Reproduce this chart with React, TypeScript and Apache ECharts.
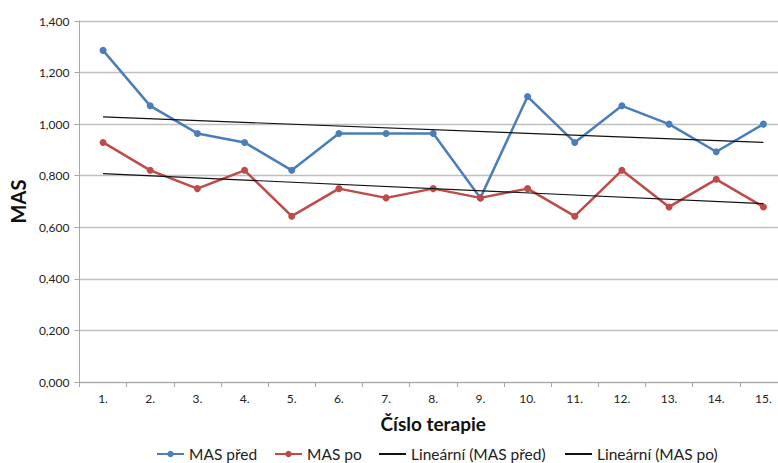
import React, { useEffect, useRef } from "react";
import * as echarts from "echarts";

const categories = ["1.", "2.", "3.", "4.", "5.", "6.", "7.", "8.", "9.", "10.", "11.", "12.", "13.", "14.", "15."];
const masPred = [1.286, 1.071, 0.964, 0.929, 0.821, 0.964, 0.964, 0.964, 0.714, 1.107, 0.929, 1.071, 1.0, 0.893, 1.0];
const masPo = [0.929, 0.821, 0.75, 0.821, 0.643, 0.75, 0.714, 0.75, 0.714, 0.75, 0.643, 0.821, 0.679, 0.786, 0.679];
// trend line end values (first and last category)
const trendPred = [1.028, 0.929];
const trendPo = [0.808, 0.692];

const FONT = "Lato, 'Open Sans', sans-serif";

export default function App() {
  const ref = useRef<HTMLDivElement>(null);
  useEffect(() => {
    if (!ref.current) return;
    const chart = echarts.init(ref.current, undefined, { renderer: "svg" });
    const last = categories.length - 1;
    const legendBase = {
      bottom: 1,
      padding: 0,
      itemWidth: 27,
      itemHeight: 8,
      textStyle: { fontSize: 15.5, color: "#222", fontFamily: FONT },
    };
    chart.setOption({
      animation: false,
      textStyle: { fontFamily: FONT },
      grid: { left: 77, right: 7, top: 21, bottom: 81, containLabel: false },
      legend: [
        { ...legendBase, left: 156, data: [{ name: "MAS před" }] },
        { ...legendBase, left: 274, data: [{ name: "MAS po" }] },
        { ...legendBase, left: 378, data: [{ name: "Lineární (MAS před)", itemStyle: { color: "transparent", borderWidth: 0 } }] },
        { ...legendBase, left: 564, data: [{ name: "Lineární (MAS po)", itemStyle: { color: "transparent", borderWidth: 0 } }] },
      ],
      xAxis: {
        type: "category",
        data: categories,
        boundaryGap: true,
        axisLine: { lineStyle: { color: "#a6a6a6", width: 1 } },
        axisTick: { show: true, length: 5, inside: false, lineStyle: { color: "#a6a6a6" } },
        axisLabel: { fontSize: 12, color: "#222", margin: 10, fontFamily: FONT },
        name: "Číslo terapie",
        nameLocation: "middle",
        nameGap: 32,
        nameTextStyle: { fontSize: 19, fontWeight: "bold", color: "#111", fontFamily: FONT },
      },
      yAxis: {
        type: "value",
        min: 0,
        max: 1.4,
        interval: 0.2,
        axisLine: { show: true, lineStyle: { color: "#a6a6a6", width: 1 } },
        axisTick: { show: true, length: 5, lineStyle: { color: "#a6a6a6" } },
        splitLine: { lineStyle: { color: "#bfbfbf", width: 1.3 } },
        axisLabel: {
          fontSize: 12,
          color: "#222",
          margin: 10,
          fontFamily: FONT,
          formatter: (v: number) => v.toFixed(3).replace(".", ","),
        },
        name: "MAS",
        nameLocation: "middle",
        nameGap: 44,
        nameTextStyle: { fontSize: 20, fontWeight: "bold", color: "#111", fontFamily: FONT },
      },
      series: [
        {
          name: "MAS před",
          type: "line",
          data: masPred,
          color: "#4a7ebb",
          symbol: "circle",
          symbolSize: 7,
          lineStyle: { width: 2.5, color: "#4a7ebb" },
          itemStyle: { color: "#4a7ebb" },
          z: 3,
        },
        {
          name: "MAS po",
          type: "line",
          data: masPo,
          color: "#be4b48",
          symbol: "circle",
          symbolSize: 7,
          lineStyle: { width: 2.5, color: "#be4b48" },
          itemStyle: { color: "#be4b48" },
          z: 3,
        },
        {
          name: "Lineární (MAS před)",
          type: "line",
          data: [[0, trendPred[0]], [last, trendPred[1]]],
          color: "#111",
          symbol: "none",
          lineStyle: { width: 1.2, color: "#111" },
          z: 4,
        },
        {
          name: "Lineární (MAS po)",
          type: "line",
          data: [[0, trendPo[0]], [last, trendPo[1]]],
          color: "#111",
          symbol: "none",
          lineStyle: { width: 1.2, color: "#111" },
          z: 4,
        },
      ],
    });
    return () => chart.dispose();
  }, []);
  return (
    <div style={{ width: 778, height: 463, position: "absolute", left: 0, top: 0, overflow: "hidden", background: "#fff" }}>
      <div ref={ref} style={{ width: 794, height: 463, position: "absolute", left: 0, top: 0 }} />
    </div>
  );
}
